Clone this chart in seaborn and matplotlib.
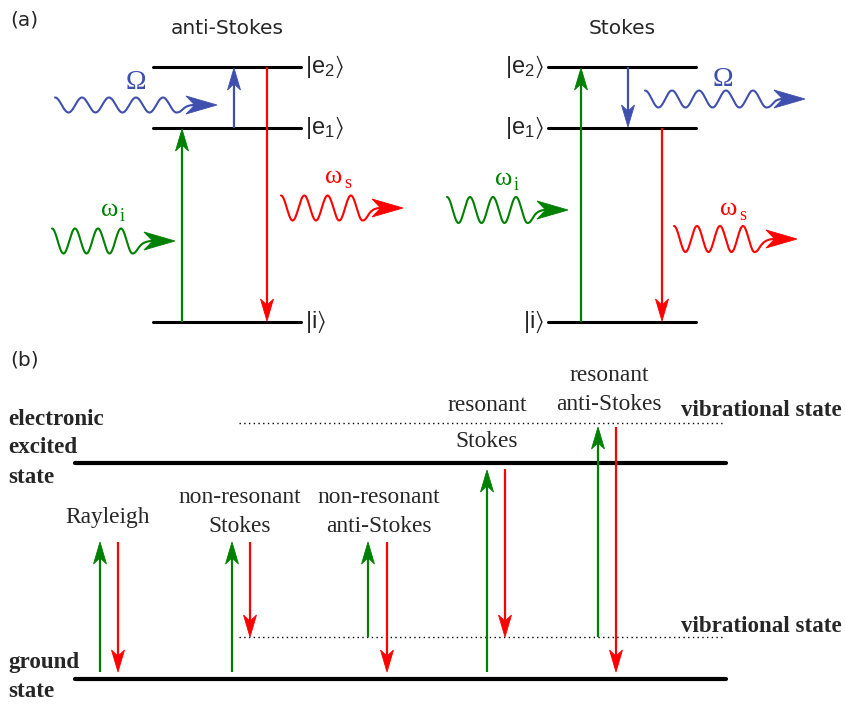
import numpy as np
import pandas as pd
import matplotlib
matplotlib.use("Agg")
import matplotlib.pyplot as plt
from matplotlib.patches import Polygon
import seaborn as sns

# ---------------- data (diagram geometry, pixel units) ----------------
GREEN = "#008000"
RED = "#ff0000"
BLUE = "#3f4fae"

# panel (a): energy levels
level_names = [r"$|\mathrm{e}_2\rangle$", r"$|\mathrm{e}_1\rangle$", r"$|\mathrm{i}\rangle$"]
level_y_a = [67, 128, 322]
left_levels_x = [153, 301]
right_levels_x = [548, 696]
titles_a = ["anti-Stokes", "Stokes"]
titles_a_x = [227, 622]

# panel (a) transitions: (x, y_from, y_to, colour)
trans_a = [
    (182, 322, 129, GREEN), (234, 128, 68, BLUE), (267, 67, 321, RED),
    (581, 322, 68, GREEN), (628, 67, 127, BLUE), (662, 128, 321, RED),
]
# photons: (x_start, x_tip, y_centre, amplitude, wavelength, periods, colour)
photons = [
    (55, 217, 105, 7.5, 27, 4.5, BLUE),
    (52, 175, 241, 12.5, 23, 3.5, GREEN),
    (281, 403, 208, 12.5, 23.3, 3.5, RED),
    (645, 805, 99, 8.5, 27, 4.5, BLUE),
    (447, 568, 210, 13, 23, 3.5, GREEN),
    (674, 797, 239, 13, 23, 3.5, RED),
]
omega_labels = [(136, 89, BLUE), (723, 86, BLUE)]
freq_labels = [
    (110, 216, "i", GREEN), (334, 183, "s", RED),
    (504, 185, "i", GREEN), (729, 215, "s", RED),
]

# panel (b)
ground_y, excited_y = 679, 463
vib_up_y, vib_low_y = 423, 637
levels_b_x = [75, 726]
dotted_x = [239, 723]
trans_b = [
    (100, 672, 542, GREEN), (118, 542, 672, RED),
    (232, 672, 542, GREEN), (250, 542, 637, RED),
    (368, 637, 542, GREEN), (387, 542, 672, RED),
    (487, 672, 470, GREEN), (505, 469, 637, RED),
    (598, 637, 427, GREEN), (616, 427, 672, RED),
]
process_labels = [
    (108, [523], ["Rayleigh"]),
    (240, [503, 532], ["non-resonant", "Stokes"]),
    (379, [503, 532], ["non-resonant", "anti-Stokes"]),
    (487, [411, 447], ["resonant", "Stokes"]),
    (609, [381, 410], ["resonant", "anti-Stokes"]),
]

# ---------------- drawing ----------------
sns.set_theme(style="white")
plt.rcParams["font.family"] = ["DejaVu Sans"]
plt.rcParams["mathtext.fontset"] = "custom"
plt.rcParams["mathtext.rm"] = "Liberation Sans"
plt.rcParams["mathtext.it"] = "Liberation Sans:italic"
plt.rcParams["mathtext.bf"] = "Liberation Sans:bold"
plt.rcParams["mathtext.fallback"] = "stixsans"

fig = plt.figure(figsize=(8.46, 7.04), dpi=100)
ax = fig.add_axes([0, 0, 1, 1])
ax.set_xlim(0, 846)
ax.set_ylim(704, 0)
ax.axis("off")


def head(x, y, dx, dy, color, L=22, W=13, notch=0.72):
    # arrow head with tip at (x, y) pointing along unit (dx, dy)
    px, py = -dy, dx
    bx, by = x - dx * L, y - dy * L
    nx, ny = x - dx * L * notch, y - dy * L * notch
    pts = [(x, y), (bx + px * W / 2, by + py * W / 2), (nx, ny),
           (bx - px * W / 2, by - py * W / 2)]
    ax.add_patch(Polygon(pts, closed=True, fc=color, ec=color, lw=0.6, zorder=4))
    return nx, ny


def varrow(x, y0, y1, color, lw=1.6):
    d = 1 if y1 > y0 else -1
    nx, ny = head(x, y1, 0, d, color)
    ax.plot([x, x], [y0, ny], color=color, lw=lw, solid_capstyle="butt", zorder=3)


def photon(x0, xt, yc, amp, lam, n, color):
    xs = np.linspace(x0, x0 + n * lam, 300)
    ys = yc - amp * np.cos(2 * np.pi * (xs - x0) / lam)
    xe, ye = xs[-1], ys[-1]
    L = 31
    xa = xt - L * 0.72
    t = np.linspace(0, 1, 40)
    p0 = np.array([xe, ye]); p1 = np.array([xe + 0.25 * lam, ye])
    p2 = np.array([xe + 0.2 * lam, yc]); p3 = np.array([xa, yc])
    bz = ((1 - t) ** 3)[:, None] * p0 + (3 * (1 - t) ** 2 * t)[:, None] * p1 \
        + (3 * (1 - t) * t ** 2)[:, None] * p2 + (t ** 3)[:, None] * p3
    xx = np.concatenate([xs, bz[:, 0]])
    yy = np.concatenate([ys, bz[:, 1]])
    df = pd.DataFrame({"x": xx, "y": yy, "o": np.arange(len(xx))})
    sns.lineplot(data=df, x="x", y="y", sort=False, estimator=None, color=color,
                 lw=1.5, ax=ax, legend=False)
    head(xt, yc, 1, 0, color, L=L, W=18)


serif = ["Liberation Serif", "DejaVu Serif"]

# panel (a)
ax.text(10, 25, "(a)", fontsize=14.5, ha="left", va="baseline")
for tx, tt in zip(titles_a_x, titles_a):
    ax.text(tx, 34, tt, fontsize=14.5, ha="center", va="baseline")
for y, name in zip(level_y_a, level_names):
    ax.plot(left_levels_x, [y, y], color="black", lw=2.2, zorder=2)
    ax.plot(right_levels_x, [y, y], color="black", lw=2.2, zorder=2)
    ax.text(left_levels_x[1] + 4, y, name, fontsize=17, ha="left", va="center",
            math_fontfamily="custom")
    ax.text(right_levels_x[0] - 4, y, name, fontsize=17, ha="right", va="center",
            math_fontfamily="custom")
for x, y0, y1, c in trans_a:
    varrow(x, y0, y1, c)
for p in photons:
    photon(*p)
for x, y, c in omega_labels:
    ax.text(x, y, "Ω", color=c, fontsize=20, family=serif, ha="center", va="baseline")
for x, y, sub, c in freq_labels:
    ax.text(x, y, "ω", color=c, fontsize=19, family=serif, ha="center", va="baseline")
    ax.text(x + 10, y + 5, sub, color=c, fontsize=13, family=serif, ha="left",
            va="baseline")

# panel (b)
ax.text(10, 365, "(b)", fontsize=14.5, ha="left", va="baseline")
for y in (excited_y, ground_y):
    ax.plot(levels_b_x, [y, y], color="black", lw=3.0, zorder=2)
for y in (vib_up_y, vib_low_y):
    ax.plot(dotted_x, [y, y], color="black", lw=1.0, dashes=(1, 2.4), zorder=1)
for y, s in zip([425, 453, 483], ["electronic", "excited", "state"]):
    ax.text(8, y, s, fontsize=16.6, fontweight="bold", family=serif, va="baseline")
for y, s in zip([668, 697], ["ground", "state"]):
    ax.text(8, y, s, fontsize=16.6, fontweight="bold", family=serif, va="baseline")
for y in (416, 632):
    ax.text(681, y, "vibrational state", fontsize=16.6, fontweight="bold",
            family=serif, va="baseline")
for x, ys, ss in process_labels:
    for y, s in zip(ys, ss):
        ax.text(x, y, s, fontsize=16.8, family=serif, ha="center", va="baseline")
for x, y0, y1, c in trans_b:
    varrow(x, y0, y1, c)

fig.savefig("out.png", dpi=100)
